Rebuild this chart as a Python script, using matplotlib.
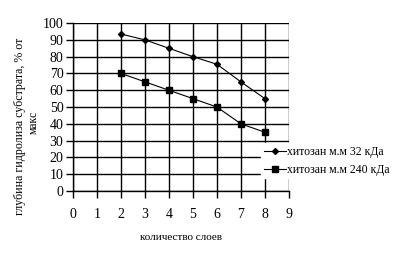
import matplotlib
matplotlib.use("Agg")
import matplotlib.pyplot as plt

layers = [2, 3, 4, 5, 6, 7, 8]
chitosan_32 = [93.5, 90, 85, 80, 75.5, 65, 55]
chitosan_240 = [70, 65, 60, 55, 50, 40, 35]
labels = ["хитозан м.м 32 кДа", "хитозан м.м 240 кДа"]
xticks = list(range(0, 10))
yticks = list(range(0, 101, 10))

plt.rcParams['font.family'] = ['Liberation Serif', 'DejaVu Serif']

fig = plt.figure(figsize=(4.04, 2.57), dpi=100)
ax = fig.add_axes([0.181, 0.257, 0.534, 0.653])
ax.plot(layers, chitosan_32, color='black', lw=0.8, marker='D', ms=3, label=labels[0])
ax.plot(layers, chitosan_240, color='black', lw=0.8, marker='s', ms=4.5, label=labels[1])
ax.set_xlim(0, 9)
ax.set_ylim(0, 100)
ax.set_xticks(xticks)
ax.set_yticks(yticks)
ax.grid(True, color='black', lw=1)
for s in ['top', 'right']:
    ax.spines[s].set_visible(False)
for s in ['left', 'bottom']:
    ax.spines[s].set_linewidth(1)
ax.tick_params(axis='x', direction='out', length=5, width=1, pad=7, labelsize=10)
ax.tick_params(axis='y', direction='out', length=5, width=1, pad=2, labelsize=10)
ax.set_xlabel("количество слоев", fontsize=8, labelpad=9)
fig.text(20 / 404, 1 - 126 / 257, "глубина гидролиза субстрата, % от", rotation=90,
         ha='center', va='center', fontsize=8.6)
fig.text(34 / 404, 1 - 122 / 257, "макс", rotation=90, ha='center', va='center', fontsize=8.5)
leg = fig.legend(loc='upper left', bbox_to_anchor=(0.632, 0.465), frameon=True, fontsize=8.5,
                 handlelength=1.9, handletextpad=0.1, borderpad=0.2, labelspacing=0.5)
leg.get_frame().set_edgecolor('white')
leg.get_frame().set_facecolor('white')
leg.get_frame().set_alpha(1)
fig.savefig("out.png", dpi=100)
